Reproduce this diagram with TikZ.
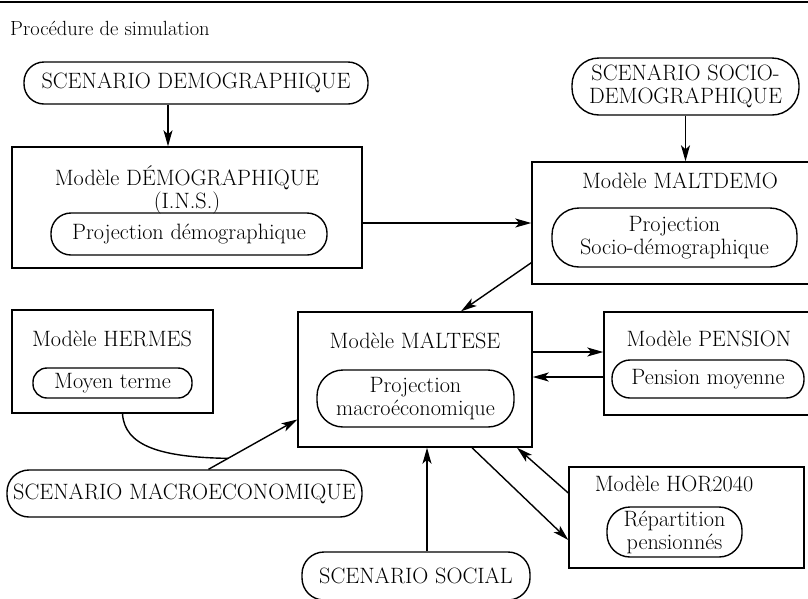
\documentclass[tikz,border=0pt]{standalone}
\usetikzlibrary{arrows.meta}
\tikzset{
    modele/.style={draw, line width=1.4pt, inner sep=0pt},
    scenario/.style={draw, line width=1.4pt, rounded corners=#1, inner sep=0pt, align=center},
    scenario/.default=20pt,
    wh/.style 2 args={minimum width=#1pt, minimum height=#2pt},
    fleche/.style={line width=1.4pt, -{Stealth[length=16pt, width=9pt, inset=4pt]}}
}

\begin{document}
\begin{tikzpicture}[x=1pt, y=-1pt, every node/.style={font=\fontsize{22.2}{23}\selectfont}]
        \useasboundingbox (0,0) rectangle (808,598);
        \draw[line width=1.5pt] (0,2) -- (808,2);
        \node[anchor=west, inner sep=0pt, font=\fontsize{20.5}{22}\selectfont] (titre) at (10,28) {Procédure de simulation};

        \node[scenario, wh={344}{42}] (scdemo) at (196,83) {SCENARIO DEMOGRAPHIQUE};
        \node[modele, wh={350}{121}] (mdemo) at (187,207.5) {};
        \node[align=center] (mdemo-t) at (187,190) {Modèle DÉMOGRAPHIQUE\\(I.N.S.)};
        \node[scenario, wh={276}{42}] (mdemo-p) at (189,234) {Projection démographique};

        \node[scenario=27pt, wh={227}{57}] (scsocio) at (685.5,86.5) {SCENARIO SOCIO-\\DEMOGRAPHIQUE};
        \node[modele, wh={280}{122}] (maltdemo) at (672,223) {};
        \node (maltdemo-t) at (680,181) {Modèle MALTDEMO};
        \node[scenario=27pt, wh={245}{59}] (maltdemo-p) at (674.5,237.5) {Projection\\Socio-démographique};

        \node[modele, wh={201}{103}] (hermes) at (112.5,361.5) {};
        \node (hermes-t) at (112,339) {Modèle HERMES};
        \node[scenario=14pt, wh={159}{30}] (hermes-p) at (112.5,383) {Moyen terme};

        \node[modele, wh={234}{135}] (maltese) at (415,379.5) {};
        \node (maltese-t) at (415,341) {Modèle MALTESE};
        \node[scenario=26pt, wh={197}{57}] (maltese-p) at (415.5,398.5) {Projection\\macroéconomique};

        \node[modele, wh={208}{103}] (pension) at (708,363.5) {};
        \node (pension-t) at (709,339) {Modèle PENSION};
        \node[scenario=18pt, wh={192}{38}] (pension-p) at (708,379) {Pension moyenne};

        \node[modele, wh={235}{101}] (hor) at (686.5,517.5) {};
        \node (hor-t) at (674,484) {Modèle HOR2040};
        \node[scenario=23pt, wh={135}{50}] (hor-p) at (674.5,532) {Répartition\\pensionnés};

        \node[scenario=22pt, wh={355}{47}] (scmacro) at (184.5,493.5) {SCENARIO MACROECONOMIQUE};
        \node[scenario=22pt, wh={228}{48}] (scsocial) at (416,576) {SCENARIO SOCIAL};

        \draw[fleche] ([xshift=-28pt]scdemo.south) -- ([xshift=-19pt]mdemo.north);
        \draw[fleche] (mdemo.east |- maltdemo.west) -- (maltdemo.west);
        \draw[fleche] (scsocio.south) -- (scsocio.south |- maltdemo.north);
        \draw[fleche] ([yshift=22pt]maltdemo.south west) -- ([xshift=46pt]maltese.north);
        \draw[fleche] ([xshift=24pt]scmacro.north) -- coordinate[pos=.22] (jonction) ([yshift=-40pt]maltese.west);
        \draw[line width=1.4pt] ([xshift=10pt]hermes.south) .. controls +(2,32) and +(-68,-1) .. (jonction);
        \draw[fleche] ([yshift=27.5pt]maltese.east) -- ([yshift=11.5pt]pension.west);
        \draw[fleche] ([yshift=-13.5pt]pension.west) -- ([yshift=2.5pt]maltese.east);
        \draw[fleche] ([yshift=24.5pt]hor.west) -- ([xshift=102pt]maltese.south);
        \draw[fleche] ([xshift=57pt]maltese.south) -- ([yshift=-22.5pt]hor.west);
        \draw[fleche] ([xshift=11pt]scsocial.north) -- ([xshift=12pt]maltese.south);
\end{tikzpicture}
\end{document}
